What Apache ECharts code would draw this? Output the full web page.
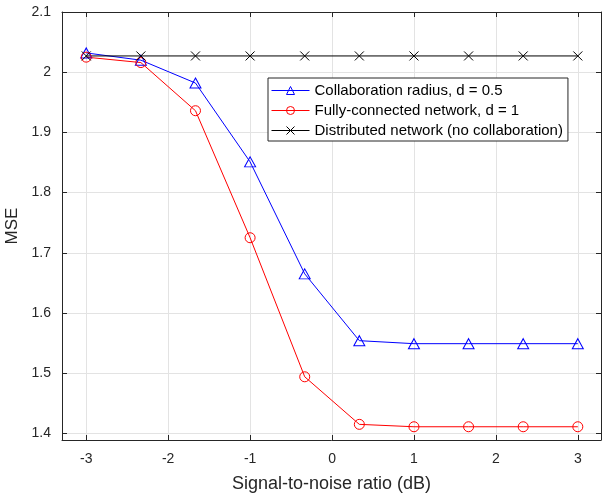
<!DOCTYPE html>
<html><head><meta charset="utf-8">
<script src="https://cdn.jsdelivr.net/npm/echarts@6/dist/echarts.min.js"></script>
<style>html,body{margin:0;padding:0;background:#fff}#c{width:603px;height:496px}</style>
</head><body><div id="c"></div>
<script>
const snr = [-3, -2.3333, -1.6667, -1, -0.3333, 0.3333, 1, 1.6667, 2.3333, 3];
const collabRadius = [2.032, 2.020, 1.982, 1.851, 1.665, 1.554, 1.549, 1.549, 1.549, 1.549];
const fullyConnected = [2.025, 2.016, 1.936, 1.725, 1.494, 1.415, 1.411, 1.411, 1.411, 1.411];
const distributed = [2.027, 2.027, 2.027, 2.027, 2.027, 2.027, 2.027, 2.027, 2.027, 2.027];
const names = ['Collaboration radius, d = 0.5', 'Fully-connected network, d = 1', 'Distributed network (no collaboration)'];

const F = 'Liberation Sans, Arial, Helvetica, sans-serif';
const axisCol = '#262626';
const xMin = -3.296, xMax = 3.283, yMin = 1.389, yMax = 2.1;
const pairs = a => snr.map((x, i) => [x, a[i]]);
const xPath = 'path://M0,0L10,10M10,0L0,10';

const baseX = {
  type: 'value', min: xMin, max: xMax, splitNumber: 6,
  axisLine: {show: true, onZero: false, lineStyle: {color: axisCol, width: 1}},
  axisTick: {show: true, inside: true, length: 5, lineStyle: {color: axisCol}},
  splitLine: {show: false}
};
const baseY = {
  type: 'value', min: yMin, max: yMax, splitNumber: 7,
  axisLine: {show: true, onZero: false, lineStyle: {color: axisCol, width: 1}},
  axisTick: {show: true, inside: true, length: 5, lineStyle: {color: axisCol}},
  splitLine: {show: false}
};

const chart = echarts.init(document.getElementById('c'), null, {renderer: 'canvas'});
chart.setOption({
  animation: false,
  backgroundColor: '#fff',
  grid: {left: 62, right: 2, top: 12, bottom: 56, containLabel: false, outerBoundsMode: 'none'},
  legend: {
    orient: 'vertical', left: 268, top: 78, itemWidth: 38, itemHeight: 10, itemGap: 5,
    padding: [5, 5, 3, 3], borderColor: axisCol, borderWidth: 1, backgroundColor: '#fff',
    lineStyle: {width: 1},
    itemStyle: {borderWidth: 1},
    textStyle: {fontFamily: F, fontSize: 15, color: '#000'},
    data: names
  },
  xAxis: [
    Object.assign({}, baseX, {
      position: 'bottom',
      name: 'Signal-to-noise ratio (dB)', nameLocation: 'middle', nameGap: 35,
      nameTextStyle: {fontFamily: F, fontSize: 18, color: axisCol},
      axisLabel: {fontFamily: F, fontSize: 14, color: axisCol, margin: 12, showMinLabel: false, showMaxLabel: false},
      splitLine: {show: true, lineStyle: {color: '#e3e3e3', width: 1}}
    }),
    Object.assign({}, baseX, {position: 'top', axisLabel: {show: false}})
  ],
  yAxis: [
    Object.assign({}, baseY, {
      position: 'left',
      name: 'MSE', nameLocation: 'middle', nameGap: 40,
      nameTextStyle: {fontFamily: F, fontSize: 17, color: axisCol},
      axisLabel: {fontFamily: F, fontSize: 14, color: axisCol, margin: 11, showMinLabel: false,
        formatter: v => (Math.round(v * 10) / 10).toString()},
      splitLine: {show: true, lineStyle: {color: '#e3e3e3', width: 1}}
    }),
    Object.assign({}, baseY, {position: 'right', axisLabel: {show: false}})
  ],
  series: [
    {name: names[0], type: 'line', data: pairs(collabRadius), color: '#0000ff',
     symbol: 'triangle', symbolSize: [11, 10],
     lineStyle: {color: '#0000ff', width: 1},
     itemStyle: {color: 'rgba(255,255,255,0)', borderColor: '#0000ff', borderWidth: 1}},
    {name: names[1], type: 'line', data: pairs(fullyConnected), color: '#ff0000',
     symbol: 'circle', symbolSize: 10,
     lineStyle: {color: '#ff0000', width: 1},
     itemStyle: {color: 'rgba(255,255,255,0)', borderColor: '#ff0000', borderWidth: 1}},
    {name: names[2], type: 'line', data: pairs(distributed), color: '#000000',
     symbol: xPath, symbolSize: 9,
     lineStyle: {color: '#000000', width: 1},
     itemStyle: {color: 'rgba(0,0,0,0)', borderColor: '#000000', borderWidth: 1}}
  ]
});
</script></body></html>
